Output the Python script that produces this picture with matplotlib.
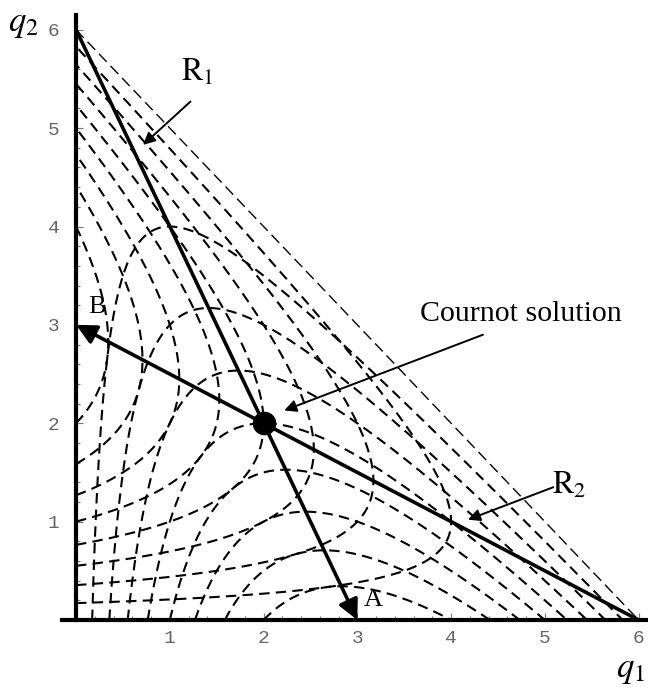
import numpy as np
import matplotlib
matplotlib.use("Agg")
import matplotlib.pyplot as plt

# demand intercept (zero cost duopoly), isoprofit levels, Cournot point
a = 6.0
profit_levels = [1, 2, 3, 4, 5, 6, 7, 8]
cournot = (2.0, 2.0)
ticks = [1, 2, 3, 4, 5, 6]

plt.rcParams['mathtext.fontset'] = 'stix'
plt.rcParams['font.family'] = 'Liberation Serif'

fig = plt.figure(figsize=(6.48, 6.90), dpi=100)
ax = fig.add_axes([62 / 648, 70 / 690, 586 / 648, 605 / 690])
ax.set_xlim(-0.15, 6.1)
ax.set_ylim(0, 6.15)

dash = dict(color='black', lw=1.5, dashes=(5, 3))

# isoprofit curves: firm 1 -> q2 = a - q1 - c/q1 ; firm 2 symmetric
for c in profit_levels:
    lo = (a - np.sqrt(a * a - 4 * c)) / 2
    hi = (a + np.sqrt(a * a - 4 * c)) / 2
    q = np.linspace(lo, hi, 400)
    other = a - q - c / q
    ax.plot(q, other, **dash)
    ax.plot(other, q, **dash)

# zero profit line
ax.plot([0, a], [a, 0], color='black', lw=1.0, dashes=(8, 4))

# reaction functions
big = dict(arrowstyle='-|>', color='black', lw=2.6, mutation_scale=30,
           shrinkA=0, shrinkB=0)
ax.annotate('', xy=(a / 2, 0), xytext=(0, a), arrowprops=big)
ax.annotate('', xy=(0, a / 2), xytext=(a, 0), arrowprops=big)
ax.plot(*cournot, 'o', color='black', ms=16, zorder=5)

small = dict(arrowstyle='-|>', color='black', lw=1.4, mutation_scale=18,
             shrinkA=0, shrinkB=0)
ax.annotate('', xy=(0.715, 4.83), xytext=(1.22, 5.27), arrowprops=small)
ax.text(1.12, 5.56, r'$\mathrm{R}_1$', fontsize=23, ha='left', va='center')
ax.annotate('', xy=(2.22, 2.13), xytext=(4.34, 2.90), arrowprops=small)
ax.text(4.74, 3.11, 'Cournot solution', fontsize=21.5, ha='center', va='center')
ax.annotate('', xy=(4.18, 1.02), xytext=(5.09, 1.35), arrowprops=small)
ax.text(5.08, 1.37, r'$\mathrm{R}_2$', fontsize=23, ha='left', va='center')
ax.text(0.22, 3.18, 'B', fontsize=19, ha='center', va='center')
ax.text(3.17, 0.20, 'A', fontsize=19, ha='center', va='center')

ax.text(-0.56, 6.06, r'$q_2$', fontsize=25, ha='center', va='center', clip_on=False)
ax.text(5.91, -0.50, r'$q_1$', fontsize=25, ha='center', va='center', clip_on=False)

# axes
for s in ['top', 'right']:
    ax.spines[s].set_visible(False)
ax.spines['left'].set_position(('data', 0))
ax.spines['left'].set_linewidth(3)
ax.spines['bottom'].set_linewidth(3)
ax.set_xticks(ticks)
ax.set_yticks(ticks)
ax.set_xticks(np.arange(0.2, 6.01, 0.2), minor=True)
ax.set_yticks(np.arange(0.2, 6.01, 0.2), minor=True)
ax.tick_params(which='both', direction='in', color='#777777', width=0.8)
ax.tick_params(which='major', length=5)
ax.tick_params(axis='x', which='major', pad=7)
ax.tick_params(axis='y', which='major', pad=12)
ax.tick_params(which='minor', length=3)
for lab in ax.get_xticklabels() + ax.get_yticklabels():
    lab.set_fontfamily('Liberation Mono')
    lab.set_fontsize(14)
    lab.set_color('#666666')

fig.savefig('out.png', dpi=100)
